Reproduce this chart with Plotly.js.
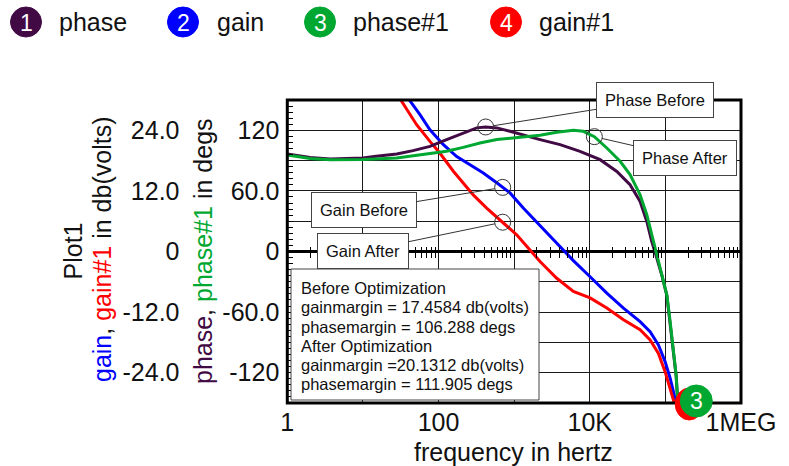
<!DOCTYPE html>
<html><head><meta charset="utf-8">
<script src="https://cdn.plot.ly/plotly-3.0.1.min.js"></script>
<style>html,body{margin:0;padding:0;background:#fff}#chart{width:789px;height:466px}</style>
</head><body><div id="chart"></div>
<script>
// ---------- data ----------
const phaseFreq = [1, 1.4, 2, 3.7, 6.3, 10, 15, 28, 46, 77, 128, 212, 320, 420, 590, 880, 1620, 2200, 4050, 7430, 13700, 22800, 34100, 46300, 56800, 66100, 75300, 89700, 104500, 115600, 127900, 138700, 144500, 148000];
const phase     = [96.5, 94.5, 93, 91.6, 92, 92.5, 94.2, 96.6, 99.9, 104.1, 110.8, 117.4, 122.4, 123.3, 122.4, 119, 113.1, 110.8, 105.8, 99.2, 90.9, 79.3, 66.1, 49.6, 29.8, 9.9, -4, -23.5, -43.5, -70, -96.5, -123, -144.5, -152.5];

const phase1Freq = [1, 1.4, 2, 3.7, 10, 28, 77, 128, 212, 353, 590, 1080, 1620, 2200, 2830, 3660, 6070, 8220, 11500, 16800, 25200, 34100, 46300, 56800, 66100, 77100, 89700, 104500, 115600, 127900, 138700, 144500, 148000];
const phase1     = [95.5, 93.5, 92, 90.9, 91, 92.6, 96.6, 99.2, 103.1, 107.5, 110.8, 112.5, 113.5, 115, 116.5, 118, 120, 119, 113.7, 102.5, 89.3, 76.1, 56.2, 36.4, 16.6, -3.3, -23.1, -42.9, -69.4, -95.8, -122.3, -143.8, -152];

const gainFreq = [39.8, 56.8, 77, 115, 174, 261, 391, 588, 705, 881, 1320, 2090, 3660, 6070, 10100, 16800, 27900, 46300, 62800, 80900, 99100, 115600, 127900, 139600];
const gain     = [30.3, 27.1, 24.1, 21.2, 18.8, 17.2, 15.55, 13.6, 12.7, 11.6, 8.6, 5.5, 1.8, -1.8, -5.0, -8.25, -11.2, -13.9, -15.9, -18.5, -21.8, -25.1, -27.8, -30.3];

const gain1Freq = [30.2, 51.3, 77, 104, 157, 212, 288, 433, 705, 1080, 1620, 2200, 3660, 6070, 10100, 16800, 27900, 46300, 62800, 80900, 99100, 115600, 127900, 134900];
const gain1     = [30.5, 25.1, 21.8, 19.5, 15.9, 13.6, 11.2, 8.6, 5.8, 3.3, 0.3, -2.0, -5.3, -7.9, -9.2, -11.2, -13.5, -15.5, -17.5, -20.2, -23.8, -27.1, -29.4, -30.6];

const xTickVals = [1, 10, 100, 1000, 10000, 100000, 1000000];
const xTickText = ['1', '', '100', '', '10K', '', '1MEG'];
const gainTickVals = [-24, -12, 0, 12, 24];
const gainTickText = ['-24.0', '-12.0', '0', '12.0', '24.0'];
const phaseTickVals = [-120, -60, 0, 60, 120];
const phaseTickText = ['-120', '-60.0', '0', '60.0', '120'];

const seriesNames = ['phase', 'gain', 'phase#1', 'gain#1'];
const seriesNums = ['1', '2', '3', '4'];
const statLines = ['Before Optimization', 'gainmargin = 17.4584 db(volts)', 'phasemargin = 106.288 degs',
                   'After Optimization', 'gainmargin =20.1312 db(volts)', 'phasemargin = 111.905 degs'];

// callout points (frequency on the curve)
const calloutPhaseBeforeF = 420, calloutPhaseAfterF = 11500, calloutGainBeforeF = 705, calloutGainAfterF = 705;

// ---------- styling / geometry ----------
const FONT = 'Arial, "Liberation Sans", sans-serif';
const COL = {phase: '#420a44', gain: '#0000ff', phase1: '#00a832', gain1: '#ff0000'};
const legendColors = [COL.phase, COL.gain, COL.phase1, COL.gain1];
const W = 789, H = 466, ML = 0, MR = 48, MT = 100, MB = 63;
const PW = W - ML - MR, PH = H - MT - MB;
const px = p => (p - ML) / PW;
const py = p => (H - MB - p) / PH;

const minorVals = [];
for (let d = 0; d < 6; d++) for (let m = 2; m <= 9; m++) minorVals.push(m * Math.pow(10, d));

const iPB = phaseFreq.indexOf(calloutPhaseBeforeF);
const iPA = phase1Freq.indexOf(calloutPhaseAfterF);
const iGB = gainFreq.indexOf(calloutGainBeforeF);
const iGA = gain1Freq.indexOf(calloutGainAfterF);

const lineTrace = (x, y, ax, color, name) => ({x, y, yaxis: ax, type: 'scatter', mode: 'lines', name,
  line: {color, width: 3}, hoverinfo: 'skip', showlegend: false});

const traces = [
  lineTrace(gainFreq, gain, 'y', COL.gain, seriesNames[1]),
  lineTrace(gain1Freq, gain1, 'y', COL.gain1, seriesNames[3]),
  {x: [gainFreq[iGB], gain1Freq[iGA]], y: [gain[iGB], gain1[iGA]], yaxis: 'y', mode: 'markers', type: 'scatter',
   marker: {symbol: 'circle-open', size: 16, color: '#333', line: {width: 1, color: '#333'}}, hoverinfo: 'skip', showlegend: false},
  lineTrace(phaseFreq, phase, 'y2', COL.phase, seriesNames[0]),
  lineTrace(phase1Freq, phase1, 'y2', COL.phase1, seriesNames[2]),
  {x: [phaseFreq[iPB], phase1Freq[iPA]], y: [phase[iPB], phase1[iPA]], yaxis: 'y2', mode: 'markers', type: 'scatter',
   marker: {symbol: 'circle-open', size: 16, color: '#333', line: {width: 1, color: '#333'}}, hoverinfo: 'skip', showlegend: false},
  // carriers for the tick-only axes on the zero line
  {x: gainFreq, y: gain, xaxis: 'x2', yaxis: 'y', mode: 'lines', opacity: 0, line: {width: 1}, hoverinfo: 'skip', showlegend: false},
  {x: gainFreq, y: gain, xaxis: 'x3', yaxis: 'y', mode: 'lines', opacity: 0, line: {width: 1}, hoverinfo: 'skip', showlegend: false}
];

const GRID = '#1a1a1a';
const tickFont = {family: FONT, size: 25, color: '#111'};
const boxFont = {family: FONT, size: 16.5, color: '#111'};

const annotations = [];
const shapes = [];
const paperText = (text, x, y, opts) => annotations.push(Object.assign({text, xref: 'paper', yref: 'paper', x: px(x), y: py(y),
  xanchor: 'center', yanchor: 'middle', showarrow: false}, opts));

// frame
shapes.push({type: 'rect', xref: 'x domain', yref: 'y domain', x0: 0, x1: 1, y0: 0, y1: 1,
  line: {color: '#000', width: 3}, layer: 'above'});
// stats box
shapes.push({type: 'rect', xref: 'paper', yref: 'paper', x0: px(291), x1: px(539), y0: py(400), y1: py(269),
  fillcolor: '#fff', line: {color: '#444', width: 1}, layer: 'above'});
const statY = [288.3, 307.3, 326.5, 345.5, 364.5, 383.5];
statLines.forEach((t, i) => paperText(t, 299, statY[i], {xanchor: 'left', font: boxFont}));

// end-of-trace label circles, sitting where each trace leaves the bottom of the plot (4 hidden under 3)
const endLabel = (fArr, color, num, dx, dy, showNum) => {
  const f = fArr[fArr.length - 1];
  shapes.push({type: 'circle', xref: 'x', yref: 'paper', xsizemode: 'pixel', ysizemode: 'pixel',
    xanchor: f, yanchor: 0, x0: dx - 16, x1: dx + 16, y0: dy - 16, y1: dy + 16,
    fillcolor: color, line: {color, width: 1}, layer: 'above'});
  if (showNum) annotations.push({text: num, xref: 'x', yref: 'paper', x: Math.log10(f), y: 0, xshift: dx, yshift: dy,
    xanchor: 'center', yanchor: 'middle', showarrow: false, font: {family: FONT, size: 23, color: '#fff'}});
};
endLabel(gain1Freq, COL.gain1, seriesNums[3], 12, -1, false);
endLabel(phase1Freq, COL.phase1, seriesNums[2], 18, 2, true);

// callouts
const callout = (text, f, v, yref, ax, ay) => annotations.push({text, x: Math.log10(f), y: v, xref: 'x', yref,
  ax, ay, axref: 'pixel', ayref: 'pixel', showarrow: true, arrowhead: 0, arrowwidth: 1, arrowcolor: '#333', standoff: 8,
  bgcolor: '#fff', bordercolor: '#444', borderwidth: 1, borderpad: 8, font: boxFont});
callout('Phase Before', phaseFreq[iPB], phase[iPB], 'y2', 169, -27);
callout('Phase After', phase1Freq[iPA], phase1[iPA], 'y2', 91, 21);
callout('Gain Before', gainFreq[iGB], gain[iGB], 'y', -139, 23);
callout('Gain After', gain1Freq[iGA], gain1[iGA], 'y', -140, 29);

// legend
const legCx = [26, 183, 320, 506], legTx = [57, 215, 351, 537];
seriesNames.forEach((n, i) => {
  shapes.push({type: 'circle', xref: 'paper', yref: 'paper', xsizemode: 'pixel', ysizemode: 'pixel',
    xanchor: px(legCx[i]), yanchor: py(22), x0: -15.5, x1: 15.5, y0: -15, y1: 15,
    fillcolor: legendColors[i], line: {color: legendColors[i], width: 1}});
  paperText(seriesNums[i], legCx[i], 22.5, {font: {family: FONT, size: 23, color: '#fff'}});
  paperText(n, legTx[i], 22, {xanchor: 'left', font: {family: FONT, size: 25, color: '#111'}});
});

// axis titles
const titleFont = {family: FONT, size: 25, color: '#111'};
paperText('Plot1', 72, 251.5, {textangle: -90, font: titleFont});
paperText('<span style="color:' + COL.gain + '">gain</span>, <span style="color:' + COL.gain1 + '">gain#1</span> in db(volts)',
  102, 250, {textangle: -90, font: titleFont});
paperText('<span style="color:' + COL.phase + '">phase</span>, <span style="color:' + COL.phase1 + '">phase#1</span> in degs',
  203, 251, {textangle: -90, font: titleFont});
paperText('frequency in hertz', 513.5, 452, {font: titleFont});

const xDomain = [px(287.3), 1];
const layout = {
  width: W, height: H, margin: {l: ML, r: MR, t: MT, b: MB, pad: 0},
  paper_bgcolor: '#fff', plot_bgcolor: '#fff', showlegend: false,
  font: {family: FONT},
  xaxis: {type: 'log', range: [0, 6], domain: xDomain, anchor: 'y', tickmode: 'array', tickvals: xTickVals, ticktext: xTickText,
    showgrid: true, gridcolor: GRID, gridwidth: 1, ticks: '', showline: false, zeroline: false, tickfont: tickFont, ticklabelstandoff: 2},
  xaxis2: {type: 'log', range: [0, 6], overlaying: 'x', anchor: 'free', position: 0.5, tickmode: 'array', tickvals: minorVals,
    ticks: 'inside', ticklen: 5, tickwidth: 1, tickcolor: '#000', showticklabels: false, showgrid: false, showline: false, zeroline: false},
  xaxis3: {type: 'log', range: [0, 6], overlaying: 'x', anchor: 'free', position: 0.5, tickmode: 'array', tickvals: minorVals,
    ticks: 'outside', ticklen: 5, tickwidth: 1, tickcolor: '#000', showticklabels: false, showgrid: false, showline: false, zeroline: false},
  yaxis: {range: [-30, 30], anchor: 'free', position: px(187.5), side: 'left', tickmode: 'array', tickvals: gainTickVals, ticktext: gainTickText,
    showgrid: true, gridcolor: GRID, gridwidth: 1, minor: {dtick: 6, tick0: 0, showgrid: true, gridcolor: GRID, gridwidth: 1},
    zeroline: true, zerolinecolor: '#000', zerolinewidth: 3, showline: false, ticks: '', tickfont: tickFont, ticklabelstandoff: 8},
  yaxis2: {range: [-150, 150], overlaying: 'y', anchor: 'x', side: 'left', tickmode: 'array', tickvals: phaseTickVals, ticktext: phaseTickText,
    showgrid: false, zeroline: false, showline: false, ticks: 'inside', ticklen: 6, tickwidth: 1, tickcolor: '#000',
    tickfont: tickFont, ticklabelstandoff: 7,
    minor: {dtick: 6, tick0: 0, ticks: 'inside', ticklen: 6, tickwidth: 1, tickcolor: '#000', showgrid: false}},
  shapes, annotations
};

Plotly.newPlot('chart', traces, layout, {staticPlot: true, displayModeBar: false});
</script>
</body></html>
